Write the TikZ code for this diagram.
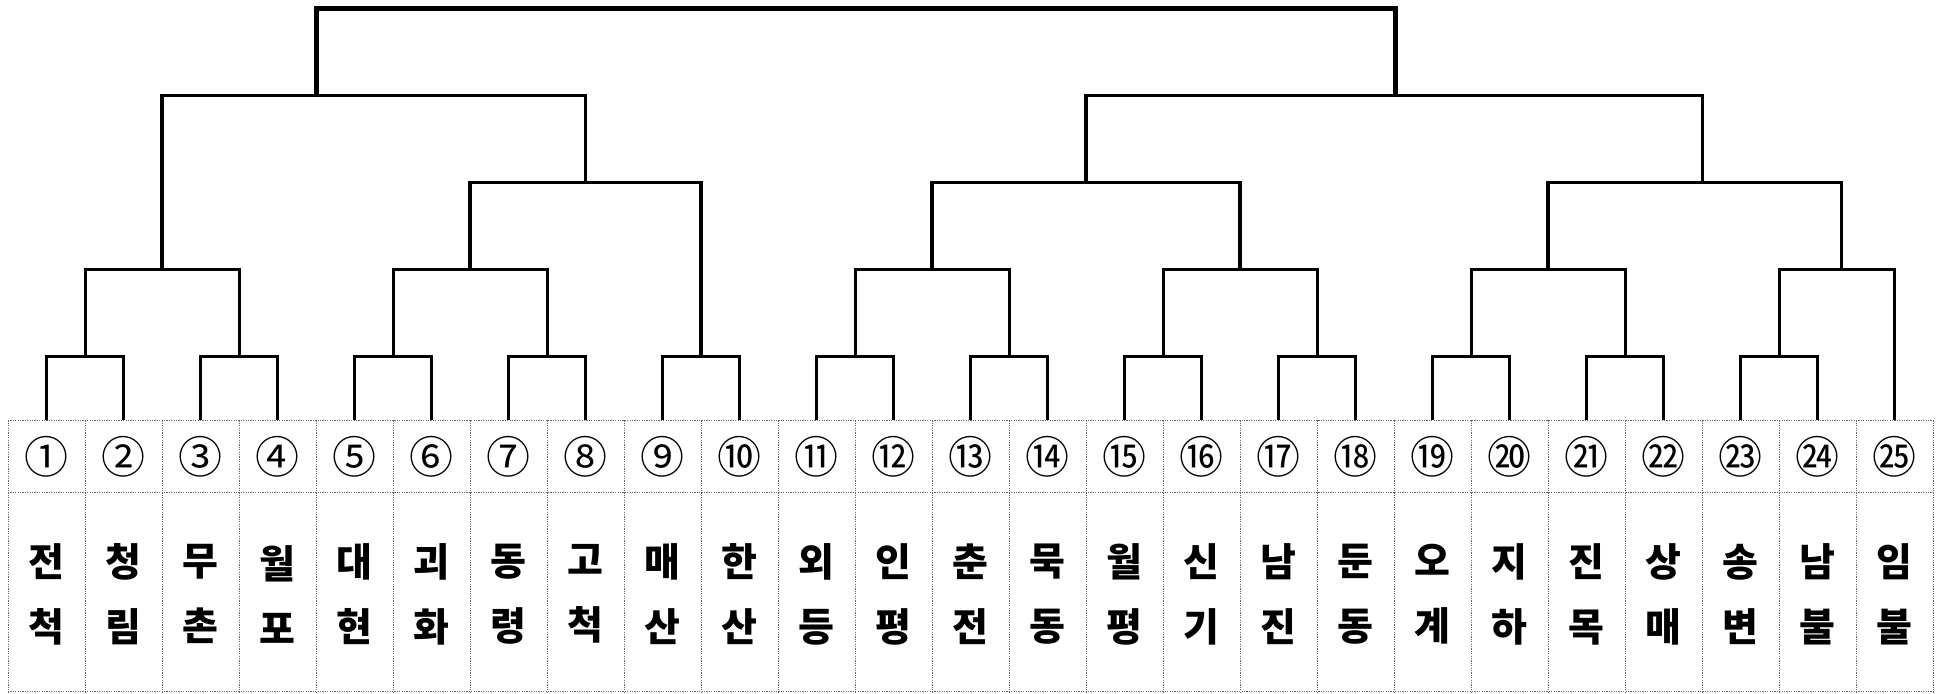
\documentclass[tikz,border=0pt]{standalone}
\usepackage{fontspec}
\newfontfamily\kr{Noto Sans CJK KR}
\begin{document}
\begin{tikzpicture}[x=0.5pt,y=-0.5pt,
  grid/.style={draw=black!60, line width=0.5pt, dash pattern=on 0.6pt off 0.6pt},
  lvA/.style={line width=2.5pt},
  lvB/.style={line width=1.85pt},
  lvC/.style={line width=1.65pt},
  lvD/.style={line width=1.5pt},
  numcell/.style={minimum width=38.5pt, minimum height=36.2pt, inner sep=0pt, outer sep=0pt,
    font=\kr\fontsize{22}{22}\selectfont},
  labcell/.style={minimum width=38.5pt, minimum height=99.5pt, inner sep=0pt, outer sep=0pt,
    align=center, font=\kr\bfseries\fontsize{19.5}{32.5}\selectfont}
]
\useasboundingbox (0,0) rectangle (1942,693);
% table grid
\foreach \k in {0,...,25} \draw[grid] ({8+77*\k},420.3) -- ({8+77*\k},691.7);
\foreach \y in {420.3,492.7,691.7} \draw[grid] (8,\y) -- (1933,\y);
% cells
\foreach \i/\n/\a/\b in {1/①/전/척,2/②/청/림,3/③/무/촌,4/④/월/포,5/⑤/대/현,
  6/⑥/괴/화,7/⑦/동/령,8/⑧/고/척,9/⑨/매/산,10/⑩/한/산,11/⑪/외/등,12/⑫/인/평,
  13/⑬/춘/전,14/⑭/묵/동,15/⑮/월/평,16/⑯/신/기,17/⑰/남/진,18/⑱/둔/동,
  19/⑲/오/계,20/⑳/지/하,21/㉑/진/목,22/㉒/상/매,23/㉓/송/변,24/㉔/남/불,25/㉕/임/불}{
  \node[numcell] (c\i) at ({77*\i-30.5},456.5) {\n};
  \node[labcell] (l\i) at ({77*\i-30.5},594.2) {\a\\\b};
}
% merge points
\coordinate (p12) at (85,356.3);
\coordinate (p34) at (239,356.3);
\coordinate (p56) at (393,356.3);
\coordinate (p78) at (547,356.3);
\coordinate (p910) at (701,356.3);
\coordinate (p1112) at (855,356.3);
\coordinate (p1314) at (1009,356.3);
\coordinate (p1516) at (1163,356.3);
\coordinate (p1718) at (1317,356.3);
\coordinate (p1920) at (1471,356.3);
\coordinate (p2122) at (1625,356.3);
\coordinate (p2324) at (1779,356.3);
\coordinate (q14) at (162,269.3);
\coordinate (q58) at (470,269.3);
\coordinate (q1114) at (932,269.3);
\coordinate (q1518) at (1240,269.3);
\coordinate (q1922) at (1548,269.3);
\coordinate (q2325) at (1841.5,269.3);
\coordinate (r510) at (585.5,182.3);
\coordinate (r1118) at (1086,182.3);
\coordinate (r1925) at (1702.5,182.3);
\coordinate (s110) at (316,95.5);
\coordinate (s1125) at (1395,95.5);
\coordinate (root) at (855,8.2);
% level 5
\foreach \a/\b/\m in {1/2/p12,3/4/p34,5/6/p56,7/8/p78,9/10/p910,11/12/p1112,
  13/14/p1314,15/16/p1516,17/18/p1718,19/20/p1920,21/22/p2122,23/24/p2324}
  \draw[lvD] (c\a.north) |- (\m) -| (c\b.north);
% level 4
\draw[lvD] (p12) |- (q14) -| (p34);
\draw[lvD] (p56) |- (q58) -| (p78);
\draw[lvD] (p1112) |- (q1114) -| (p1314);
\draw[lvD] (p1516) |- (q1518) -| (p1718);
\draw[lvD] (p1920) |- (q1922) -| (p2122);
\draw[lvD] (p2324) |- (q2325) -| (c25.north);
% level 3
\draw[lvC] (q58) |- (r510) -| (p910);
\draw[lvC] (q1114) |- (r1118) -| (q1518);
\draw[lvC] (q1922) |- (r1925) -| (q2325);
% level 2
\draw[lvB] (q14) |- (s110) -| (r510);
\draw[lvB] (r1118) |- (s1125) -| (r1925);
% level 1
\draw[lvA] (s110) |- (root) -| (s1125);
\end{tikzpicture}
\end{document}
